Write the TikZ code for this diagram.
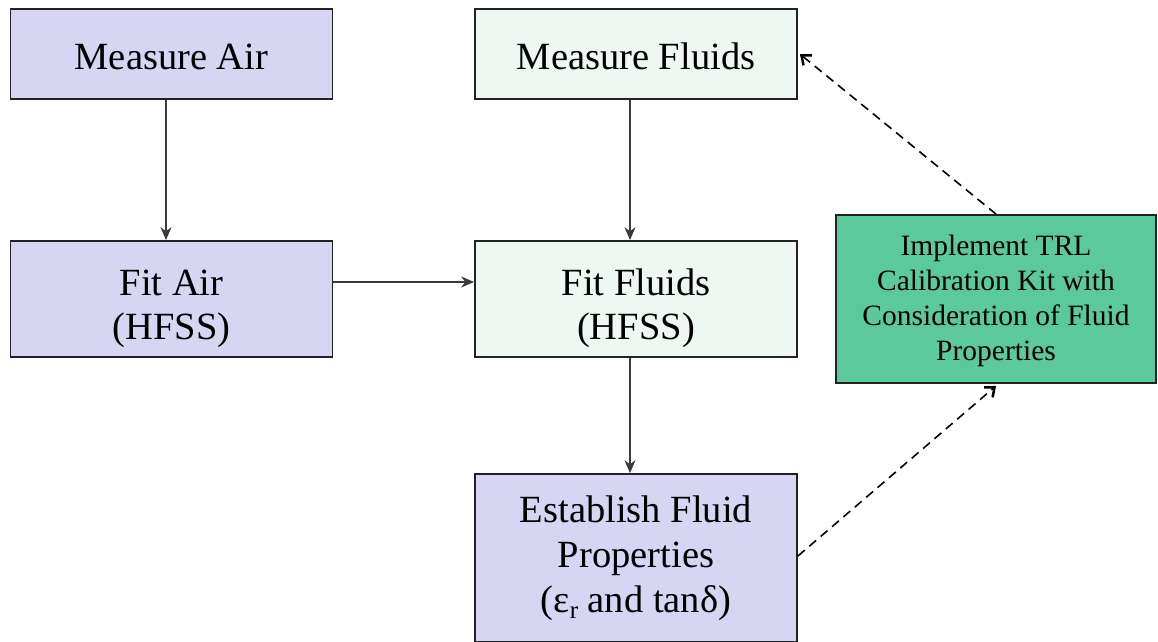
\documentclass[tikz,border=0pt]{standalone}
\usepackage{fontspec}
\setmainfont{Liberation Serif}
\usetikzlibrary{arrows.meta}
\definecolor{lav}{HTML}{D6D6F3}
\definecolor{pale}{HTML}{EEF7F2}
\definecolor{grn}{HTML}{5CC99C}
\definecolor{edge}{HTML}{222222}
\definecolor{conn}{HTML}{3A3A3A}
\tikzset{
  box/.style={draw=edge, line width=1.8pt, minimum width=322pt, align=center, inner sep=0pt,
    font=\fontsize{38.5}{45}\selectfont},
  lavbox/.style={box, fill=lav},
  palebox/.style={box, fill=pale},
  grnbox/.style={box, fill=grn, font=\fontsize{29.5}{35}\selectfont},
  conn/.style={draw=conn, line width=1.3pt, -{Stealth[length=13pt,width=11pt]}},
  dconn/.style={draw=black, line width=1.6pt, dash pattern=on 9pt off 6pt, -{Straight Barb[length=8pt,width=13pt,line width=2.5pt]}}
}
\begin{document}
\begin{tikzpicture}[x=1pt,y=1pt]
\useasboundingbox (0,0) rectangle (1158,-641);
\node[lavbox, minimum height=90pt, text height=32pt] (ma) at (171.5,-54) {Measure Air};
\node[lavbox, minimum height=116pt, text height=90pt, font=\fontsize{38.5}{44}\selectfont] (fa) at (171.5,-299) {Fit Air\\(HFSS)};
\node[palebox, minimum height=90pt, text height=32pt] (mf) at (636,-54) {Measure Fluids};
\node[palebox, minimum height=116pt, text height=90pt, font=\fontsize{38.5}{44}\selectfont] (ff) at (636,-299) {Fit Fluids\\(HFSS)};
\node[lavbox, minimum height=168pt] (ef) at (636,-558) {Establish Fluid\\Properties\\(ε\raisebox{-6pt}{\fontsize{25}{25}\selectfont r} and tanδ)};
\node[grnbox, minimum width=320pt, minimum height=168pt, text height=128.5pt] (trl) at (996,-299) {Implement TRL\\Calibration Kit with\\Consideration of Fluid\\Properties};
\draw[conn] ([xshift=-5.5pt]ma.south) -- ([xshift=-5.5pt]fa.north);
\draw[conn] ([yshift=17pt]fa.east) -- ([yshift=17pt]ff.west);
\draw[conn] ([xshift=-6pt]mf.south) -- ([xshift=-6pt]ff.north);
\draw[conn] ([xshift=-6pt]ff.south) -- ([xshift=-6pt]ef.north);
\draw[dconn] ([yshift=2pt]ef.east) -- ([yshift=-2pt]trl.south);
\draw[dconn] (trl.north) -- ([xshift=2pt]mf.east);
\end{tikzpicture}
\end{document}
